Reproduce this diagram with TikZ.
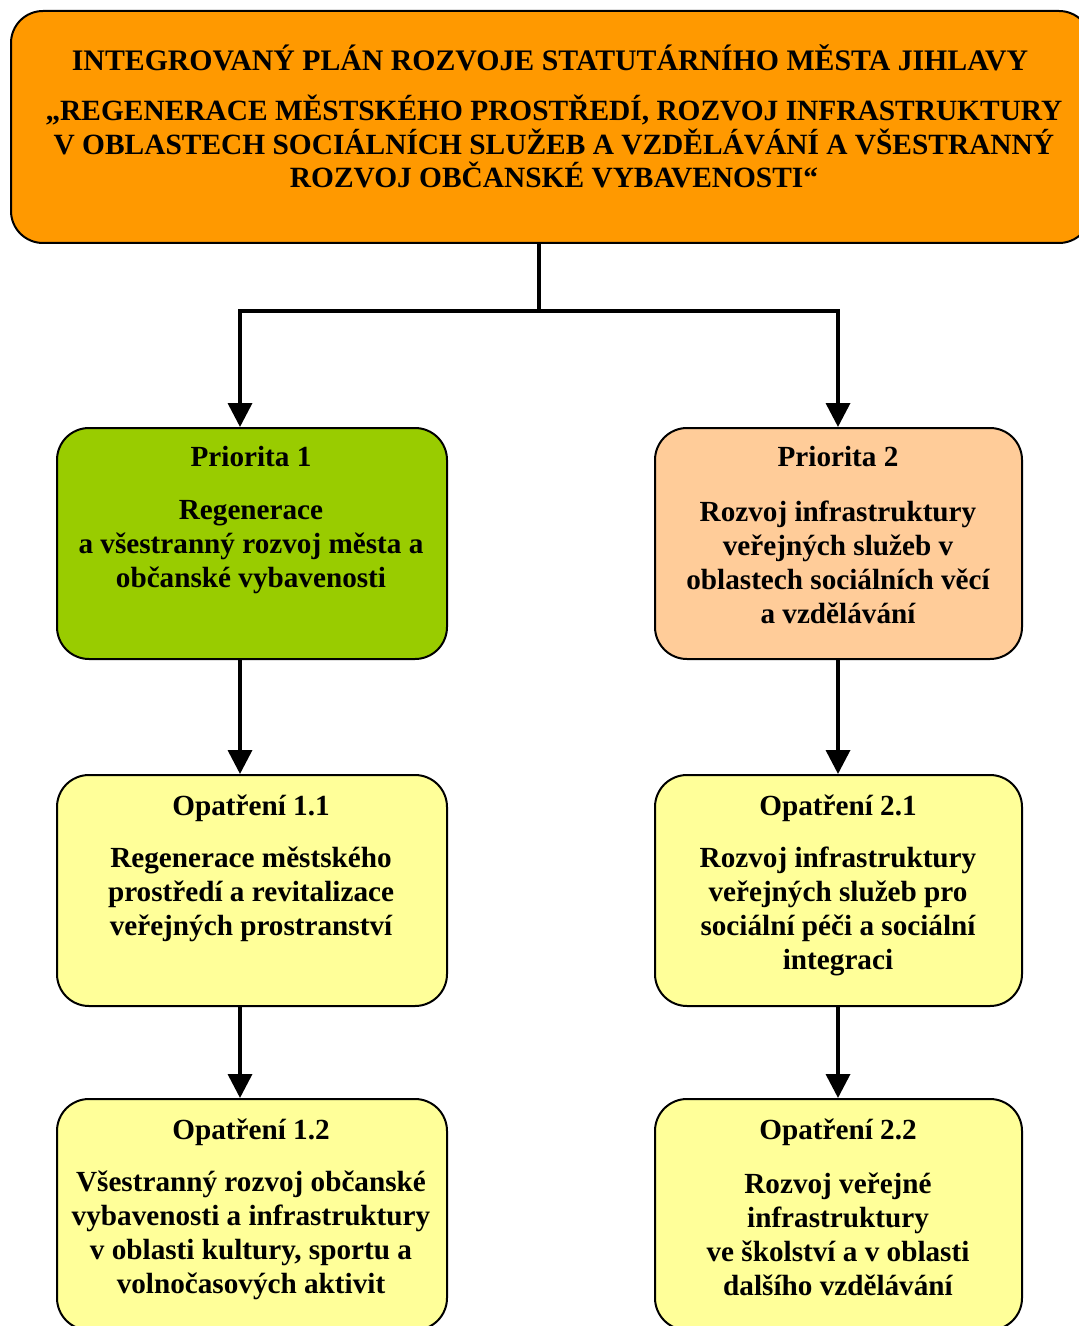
\documentclass[tikz,border=0pt]{standalone}
\usepackage{fontspec}
\setmainfont{Liberation Serif}
\usetikzlibrary{arrows.meta}
\definecolor{cOrange}{HTML}{FF9900}
\definecolor{cGreen}{HTML}{99CC00}
\definecolor{cPeach}{HTML}{FFCC99}
\definecolor{cYellow}{HTML}{FFFF99}
\begin{document}
\begin{tikzpicture}[x=0.5pt,y=-0.5pt,
  boxstyle/.style={draw=black,line width=1pt,rounded corners=16pt,anchor=north west,inner sep=0pt},
  lowbox/.style={boxstyle,minimum width=195pt,minimum height=115.5pt},
  rightbox/.style={boxstyle,minimum width=183.5pt,minimum height=115.5pt},
  txt/.style={font=\fontsize{14.6}{17}\selectfont\bfseries,align=center,inner sep=0pt,anchor=center},
  toptxt/.style={font=\fontsize{14.9}{16.8}\selectfont\bfseries,align=center,inner sep=0pt,anchor=center},
  topbody/.style={font=\fontsize{14.7}{16.8}\selectfont\bfseries,align=center,inner sep=0pt,anchor=center},
  conn/.style={line width=1.8pt},
  arr/.style={line width=1.8pt,-{Triangle[width=12pt,length=12pt]}}]
\useasboundingbox (0,0) rectangle (1079,1326);
\clip (0,0) rectangle (1079,1326);
% boxes
\node[boxstyle,fill=cOrange,minimum width=540pt,minimum height=116pt] (top) at (10,10) {};
\node[lowbox,fill=cGreen] (p1) at (56,427) {};
\node[rightbox,fill=cPeach] (p2) at (654,427) {};
\node[lowbox,fill=cYellow] (o11) at (56,774) {};
\node[rightbox,fill=cYellow] (o21) at (654,774) {};
\node[lowbox,fill=cYellow] (o12) at (56,1098) {};
\node[rightbox,fill=cYellow] (o22) at (654,1098) {};
% texts
\node[toptxt] (t1) at (550,57.5) {INTEGROVANÝ PLÁN ROZVOJE STATUTÁRNÍHO MĚSTA JIHLAVY};
\node[topbody] (t2) at (554,141.5) {„REGENERACE MĚSTSKÉHO PROSTŘEDÍ, ROZVOJ INFRASTRUKTURY\\V OBLASTECH SOCIÁLNÍCH SLUŽEB A VZDĚLÁVÁNÍ A VŠESTRANNÝ\\ROZVOJ OBČANSKÉ VYBAVENOSTI“};
\node[txt] (p1t) at (251,457) {Priorita 1};
\node[txt] (p1b) at (251,547) {Regenerace\\a všestranný rozvoj města a\\občanské vybavenosti};
\node[txt] (p2t) at (838,457) {Priorita 2};
\node[txt] (p2b) at (838,562) {Rozvoj infrastruktury\\veřejných služeb v\\oblastech sociálních věcí\\a vzdělávání};
\node[txt] (o11t) at (251,808) {Opatření 1.1};
\node[txt] (o11b) at (251,894.5) {Regenerace městského\\prostředí a revitalizace\\veřejných prostranství};
\node[txt] (o21t) at (838,808) {Opatření 2.1};
\node[txt] (o21b) at (838,911) {Rozvoj infrastruktury\\veřejných služeb pro\\sociální péči a sociální\\integraci};
\node[txt] (o12t) at (251,1132) {Opatření 1.2};
\node[txt] (o12b) at (251,1235) {Všestranný rozvoj občanské\\vybavenosti a infrastruktury\\v oblasti kultury, sportu a\\volnočasových aktivit};
\node[txt] (o22t) at (838,1132) {Opatření 2.2};
\node[txt] (o22b) at (838,1234) {Rozvoj veřejné\\infrastruktury\\ve školství a v oblasti\\dalšího vzdělávání};
% connectors
\coordinate (j) at (539,311);
\coordinate (a1) at (240,427);
\coordinate (a2) at (838,427);
\draw[conn] (top.south -| j) -- (j);
\draw[arr] (j) -| (a1);
\draw[arr] (j) -| (a2);
\draw[arr] (p1.south -| a1) -- (o11.north -| a1);
\draw[arr] (p2.south -| a2) -- (o21.north -| a2);
\draw[arr] (o11.south -| a1) -- (o12.north -| a1);
\draw[arr] (o21.south -| a2) -- (o22.north -| a2);
\end{tikzpicture}
\end{document}
